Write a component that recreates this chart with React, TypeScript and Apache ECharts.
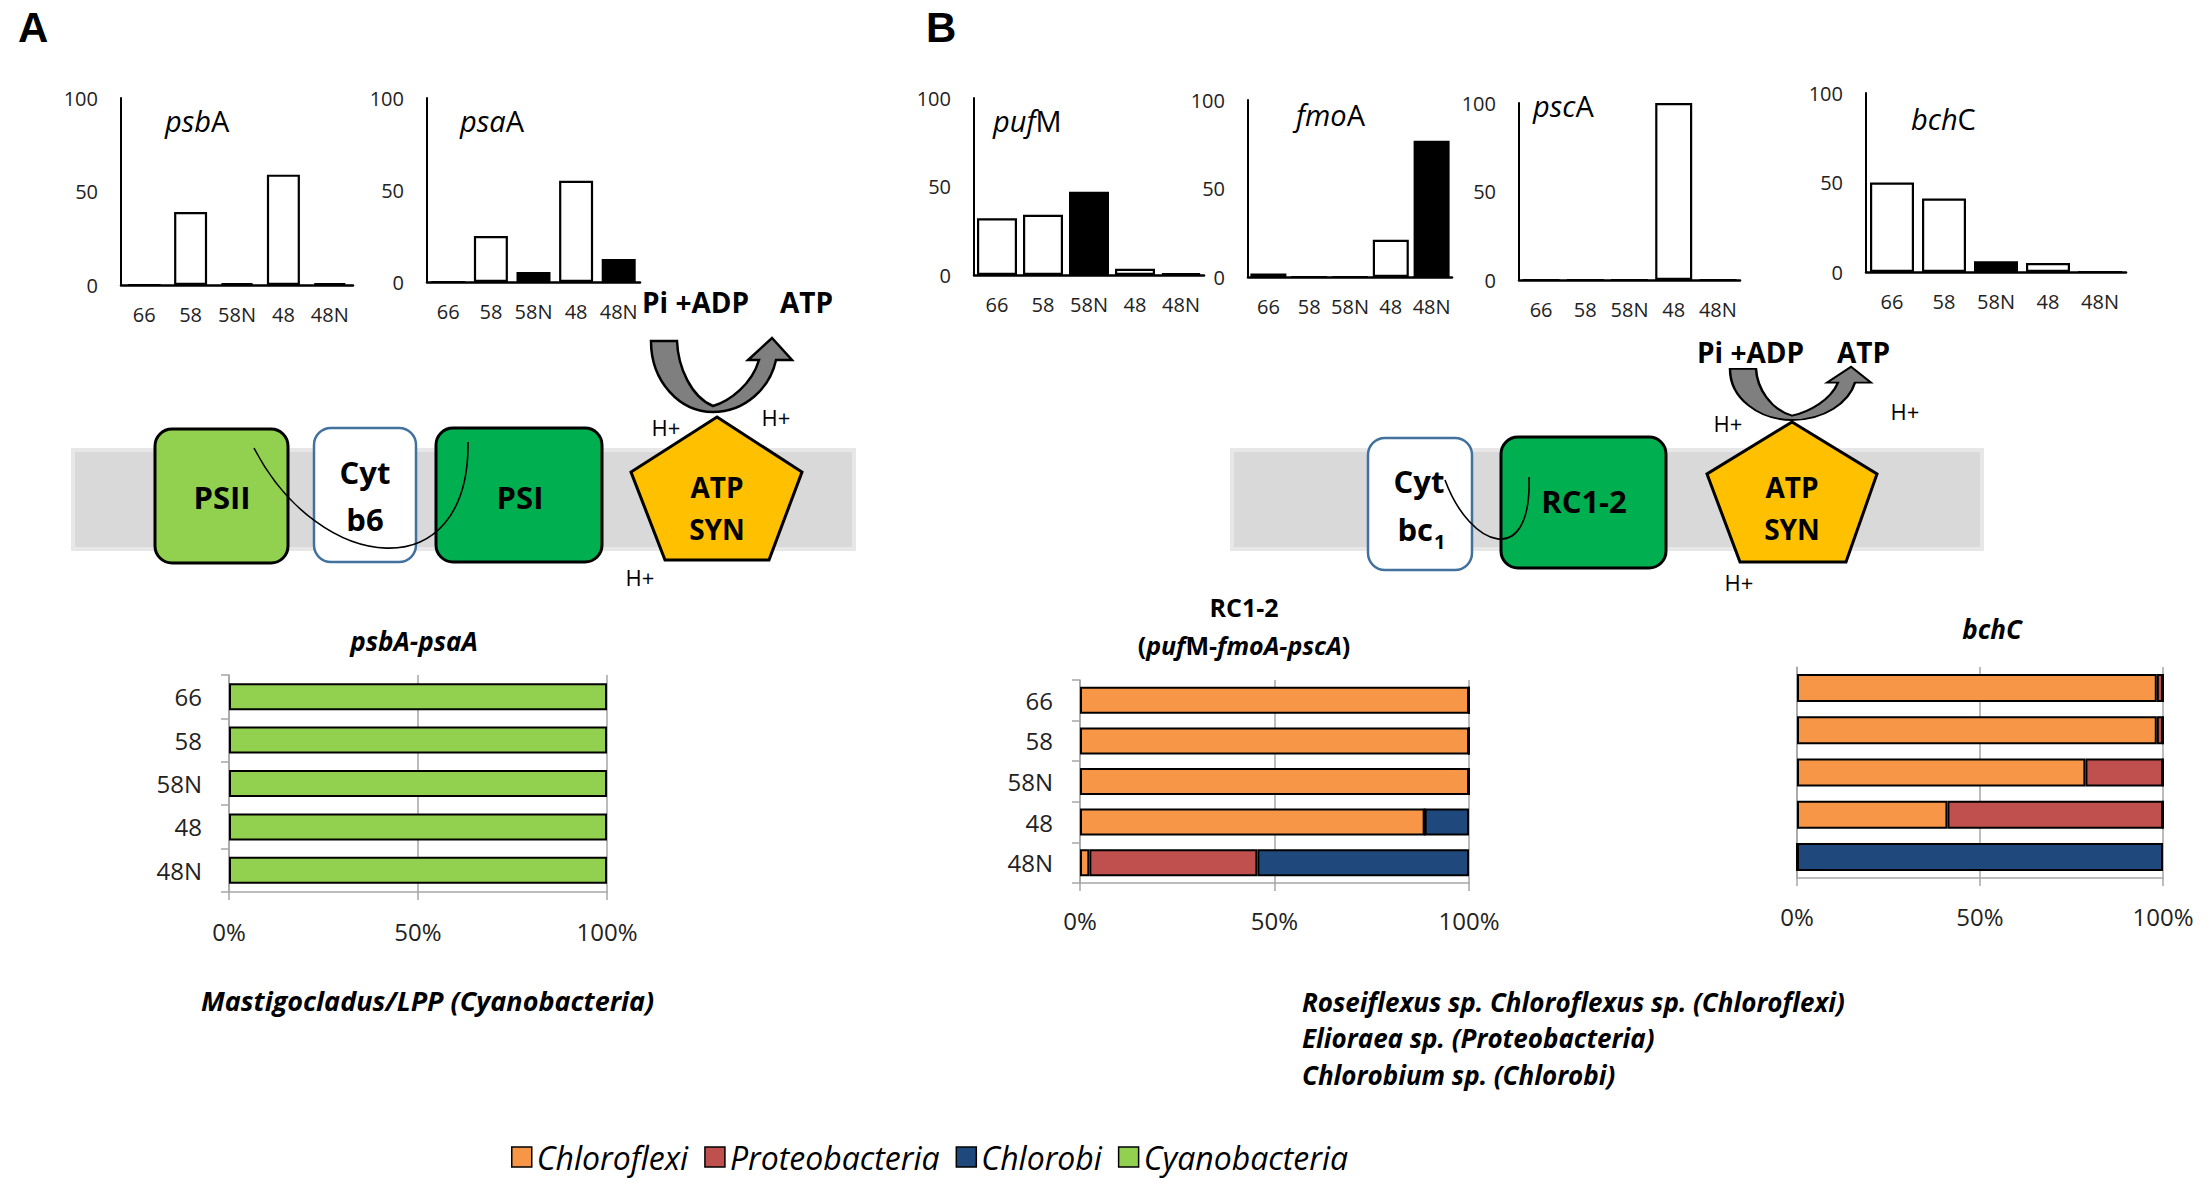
import React, { useEffect, useRef } from 'react';
import * as echarts from 'echarts';

// ---------- data ----------
const sampleCats = ['66', '58', '58N', '48', '48N'];

const psbAValues = [0, 39, 1, 59, 1];
const psaAValues = [0, 25, 5.5, 55, 12.5];
const pufMValues = [32, 34, 47, 3.5, 1];
const fmoAValues = [2, 0, 0, 21, 77];
const pscAValues = [0, 0, 0, 100, 0];
const bchCValues = [50, 41, 6, 5, 0];

const psbPsaCyanobacteria = [100, 100, 100, 100, 100];

const rcChloroflexi = [100, 100, 100, 88.6, 2.4];
const rcProteobacteria = [0, 0, 0, 0, 43.2];
const rcChlorobi = [0, 0, 0, 11.4, 54.4];

const bchChloroflexi = [98.3, 98.3, 78.8, 41.1, 0];
const bchProteobacteria = [1.7, 1.7, 21.2, 58.9, 0];
const bchChlorobi = [0, 0, 0, 0, 100];

const topTitles = [
  ['psb', 'A'],
  ['psa', 'A'],
  ['puf', 'M'],
  ['fmo', 'A'],
  ['psc', 'A'],
  ['bch', 'C'],
];
const legendNames = ['Chloroflexi', 'Proteobacteria', 'Chlorobi', 'Cyanobacteria'];

// ---------- layout / style ----------
const FONT = '"Open Sans", Lato, "Noto Sans", sans-serif';
const LETTER_FONT = '"Liberation Sans", Arial, sans-serif';
const COLORS: Record<string, string> = {
  Chloroflexi: '#f79646',
  Proteobacteria: '#c0504d',
  Chlorobi: '#1f497d',
  Cyanobacteria: '#92d050',
};

const topLayout = [
  { left: 121, top: 98, width: 232, height: 187, barWidth: 33, tx: 165, ty: 120 },
  { left: 427, top: 98, width: 213, height: 184, barWidth: 34, tx: 460, ty: 120 },
  { left: 974, top: 98, width: 230, height: 177, barWidth: 40, tx: 993, ty: 120 },
  { left: 1248, top: 100, width: 204, height: 177, barWidth: 36, tx: 1296, ty: 114 },
  { left: 1519, top: 103, width: 221, height: 177, barWidth: 37, tx: 1533, ty: 105 },
  { left: 1866, top: 93, width: 260, height: 179, barWidth: 44, tx: 1911, ty: 118 },
];
const bottomLayout = [
  { left: 229, top: 675, width: 378, height: 217, barWidth: 27, labels: true, ticks: true, margin: 27 },
  { left: 1080, top: 680, width: 389, height: 203, barWidth: 27, labels: true, ticks: true, margin: 25 },
  { left: 1797, top: 667, width: 366, height: 211, barWidth: 28, labels: false, ticks: false, margin: 26 },
];

const ARROW_D =
  'M -62 -71 L -36 -71 C -35 -45 -22 -15 0 -6 C 17 -11 39 -28 46 -52 L 35 -52 L 59 -74 L 79 -52 L 63 -52 C 57 -24 32 0 0 0 C -33 0 -62 -30 -62 -71 Z';
echarts.graphic.registerShape('atpArrow', echarts.graphic.extendPath(ARROW_D, {}));

function txt(x: number, y: number, text: string, font: string, align = 'left', extra: any = {}) {
  return {
    type: 'text',
    x,
    y,
    silent: true,
    style: {
      text,
      font,
      fill: '#000',
      textAlign: align,
      textVerticalAlign: 'middle',
      ...extra,
    },
  };
}

function richTitle(x: number, y: number, it: string, normal: string, size: number) {
  return {
    type: 'text',
    x,
    y,
    silent: true,
    style: {
      text: `{i|${it}}{n|${normal}}`,
      textAlign: 'left',
      textVerticalAlign: 'middle',
      rich: {
        i: { fontStyle: 'italic', fontSize: size, fontFamily: FONT, fill: '#000', color: '#000' },
        n: { fontStyle: 'normal', fontSize: size, fontFamily: FONT, fill: '#000', color: '#000' },
      },
    },
  };
}

function roundBox(x: number, y: number, w: number, h: number, fill: string, stroke: string, lw: number) {
  return {
    type: 'rect',
    silent: true,
    shape: { x, y, width: w, height: h, r: 17 },
    style: { fill, stroke, lineWidth: lw },
  };
}

function buildOption() {
  const topData = [psbAValues, psaAValues, pufMValues, fmoAValues, pscAValues, bchCValues];

  const grid: any[] = [];
  const xAxis: any[] = [];
  const yAxis: any[] = [];
  const series: any[] = [];

  topLayout.forEach((l, i) => {
    grid.push({ left: l.left, top: l.top, width: l.width, height: l.height, containLabel: false, outerBoundsMode: 'none' });
    xAxis.push({
      type: 'category',
      gridIndex: i,
      data: sampleCats,
      axisLine: { show: true, onZero: false, lineStyle: { color: '#000', width: 2.5 } },
      axisTick: { show: false },
      axisLabel: { color: '#222', fontSize: 20, fontFamily: FONT, margin: 19, interval: 0 },
    });
    yAxis.push({
      type: 'value',
      gridIndex: i,
      min: 0,
      max: 100,
      interval: 50,
      axisLine: { show: true, lineStyle: { color: '#000', width: 2 } },
      axisTick: { show: false },
      splitLine: { show: false },
      axisLabel: { color: '#222', fontSize: 20, fontFamily: FONT, margin: 23 },
    });
    series.push({
      type: 'bar',
      xAxisIndex: i,
      yAxisIndex: i,
      barWidth: l.barWidth,
      silent: true,
      itemStyle: { borderColor: '#000', borderWidth: 2.2 },
      data: topData[i].map((v, j) => ({
        value: v,
        itemStyle: { color: sampleCats[j].endsWith('N') ? '#000' : '#fff' },
      })),
    });
  });

  bottomLayout.forEach((l, k) => {
    const gi = 6 + k;
    grid.push({ left: l.left, top: l.top, width: l.width, height: l.height, containLabel: false, outerBoundsMode: 'none' });
    xAxis.push({
      type: 'value',
      gridIndex: gi,
      min: 0,
      max: 100,
      interval: 50,
      axisLine: { show: true, lineStyle: { color: '#a6a6a6', width: 1.5 } },
      axisTick: { show: true, length: 8, lineStyle: { color: '#a6a6a6', width: 1.5 } },
      splitLine: { show: true, lineStyle: { color: '#a6a6a6', width: 1.5 } },
      axisLabel: { formatter: '{value}%', color: '#222', fontSize: 24, fontFamily: FONT, margin: l.margin },
    });
    yAxis.push({
      type: 'category',
      gridIndex: gi,
      data: sampleCats,
      inverse: true,
      axisLine: { show: true, lineStyle: { color: '#a6a6a6', width: 1.5 } },
      axisTick: { show: l.ticks, length: 8, lineStyle: { color: '#a6a6a6', width: 1.5 } },
      axisLabel: { show: l.labels, color: '#222', fontSize: 24, fontFamily: FONT, margin: 27 },
    });
  });

  const stackBar = (name: string, gi: number, data: number[], bw: number) => ({
    name,
    type: 'bar',
    stack: 'g' + gi,
    xAxisIndex: gi,
    yAxisIndex: gi,
    barWidth: bw,
    silent: true,
    itemStyle: { color: COLORS[name], borderColor: '#000', borderWidth: 2 },
    data,
  });

  series.push(stackBar('Cyanobacteria', 6, psbPsaCyanobacteria, bottomLayout[0].barWidth));
  series.push(stackBar('Chloroflexi', 7, rcChloroflexi, bottomLayout[1].barWidth));
  series.push(stackBar('Proteobacteria', 7, rcProteobacteria, bottomLayout[1].barWidth));
  series.push(stackBar('Chlorobi', 7, rcChlorobi, bottomLayout[1].barWidth));
  series.push(stackBar('Chloroflexi', 8, bchChloroflexi, bottomLayout[2].barWidth));
  series.push(stackBar('Proteobacteria', 8, bchProteobacteria, bottomLayout[2].barWidth));
  series.push(stackBar('Chlorobi', 8, bchChlorobi, bottomLayout[2].barWidth));

  const boldF = (s: number) => `bold ${s}px ${FONT}`;
  const normF = (s: number) => `${s}px ${FONT}`;
  const biF = (s: number) => `italic bold ${s}px ${FONT}`;

  const graphics: any[] = [
    // panel letters
    txt(18, 27, 'A', `bold 42px ${LETTER_FONT}`),
    txt(926, 27, 'B', `bold 42px ${LETTER_FONT}`),
    // top chart titles
    ...topLayout.map((l, i) => richTitle(l.tx, l.ty, topTitles[i][0], topTitles[i][1], 29)),

    // ---- membrane A ----
    { type: 'rect', silent: true, shape: { x: 73, y: 450, width: 781, height: 99 }, style: { fill: '#d9d9d9', stroke: '#e7e7e7', lineWidth: 4 } },
    roundBox(155, 429, 133, 134, '#92d050', '#000', 3),
    roundBox(314, 428, 102, 134, '#ffffff', '#41719c', 2.5),
    roundBox(436, 428, 166, 134, '#00b050', '#000', 3),
    {
      type: 'bezierCurve',
      silent: true,
      shape: { x1: 254, y1: 448, cpx1: 320, cpy1: 575, cpx2: 470, cpy2: 590, x2: 468, y2: 442 },
      style: { stroke: '#000', lineWidth: 1.6, fill: null },
    },
    {
      type: 'polygon',
      silent: true,
      shape: { points: [[717, 417], [802, 472], [769, 560], [665, 560], [631, 472]] },
      style: { fill: '#ffc000', stroke: '#000', lineWidth: 3 },
    },
    { type: 'atpArrow', silent: true, x: 713, y: 412, style: { fill: '#7f7f7f', stroke: '#000', lineWidth: 2.5 } },
    txt(222, 497, 'PSII', boldF(31), 'center'),
    txt(365, 472, 'Cyt', boldF(31), 'center'),
    txt(365, 519, 'b6', boldF(31), 'center'),
    txt(520, 497, 'PSI', boldF(31), 'center'),
    txt(717, 487, 'ATP', boldF(28), 'center'),
    txt(717, 529, 'SYN', boldF(28), 'center'),
    txt(666, 427, 'H+', normF(22), 'center'),
    txt(776, 417, 'H+', normF(22), 'center'),
    txt(640, 577, 'H+', normF(22), 'center'),
    txt(642, 302, 'Pi +ADP', boldF(28), 'left'),
    txt(780, 302, 'ATP', boldF(28), 'left'),

    // ---- membrane B ----
    { type: 'rect', silent: true, shape: { x: 1232, y: 450, width: 750, height: 99 }, style: { fill: '#d9d9d9', stroke: '#e7e7e7', lineWidth: 4 } },
    roundBox(1368, 438, 104, 132, '#ffffff', '#41719c', 2.5),
    roundBox(1501, 437, 165, 131, '#00b050', '#000', 3),
    {
      type: 'bezierCurve',
      silent: true,
      shape: { x1: 1445, y1: 480, cpx1: 1470, cpy1: 548, cpx2: 1532, cpy2: 570, x2: 1529, y2: 477 },
      style: { stroke: '#000', lineWidth: 1.6, fill: null },
    },
    {
      type: 'polygon',
      silent: true,
      shape: { points: [[1792, 422], [1877, 474], [1846, 562], [1740, 562], [1707, 474]] },
      style: { fill: '#ffc000', stroke: '#000', lineWidth: 3 },
    },
    { type: 'atpArrow', silent: true, x: 1792, y: 420, scaleX: 1, scaleY: 0.72, style: { fill: '#7f7f7f', stroke: '#000', lineWidth: 2.5 } },
    txt(1419, 481, 'Cyt', boldF(31), 'center'),
    txt(1433, 529, 'bc', boldF(31), 'right'),
    txt(1434, 541, '1', boldF(20), 'left'),
    txt(1584, 501, 'RC1-2', boldF(31), 'center'),
    txt(1792, 487, 'ATP', boldF(28), 'center'),
    txt(1792, 529, 'SYN', boldF(28), 'center'),
    txt(1728, 423, 'H+', normF(22), 'center'),
    txt(1905, 411, 'H+', normF(22), 'center'),
    txt(1739, 582, 'H+', normF(22), 'center'),
    txt(1697, 352, 'Pi +ADP', boldF(28), 'left'),
    txt(1837, 352, 'ATP', boldF(28), 'left'),

    // ---- bottom chart titles ----
    txt(414, 641, 'psbA-psaA', biF(26), 'center'),
    txt(1244, 607, 'RC1-2', boldF(25), 'center'),
    {
      type: 'text',
      x: 1244,
      y: 645,
      silent: true,
      style: {
        text: '{n|(}{i|puf}{n|M-}{i|fmoA-pscA}{n|)}',
        textAlign: 'center',
        textVerticalAlign: 'middle',
        rich: {
          n: { fontWeight: 'bold', fontStyle: 'normal', fontSize: 25, fontFamily: FONT, fill: '#000' },
          i: { fontWeight: 'bold', fontStyle: 'italic', fontSize: 25, fontFamily: FONT, fill: '#000' },
        },
      },
    },
    txt(1992, 629, 'bchC', biF(26), 'center'),

    // ---- footnotes ----
    txt(201, 1000, 'Mastigocladus/LPP (Cyanobacteria)', biF(27), 'left'),
    txt(1302, 1002, 'Roseiflexus sp. Chloroflexus sp. (Chloroflexi)', biF(26), 'left'),
    txt(1302, 1038, 'Elioraea sp. (Proteobacteria)', biF(26), 'left'),
    txt(1302, 1075, 'Chlorobium sp. (Chlorobi)', biF(26), 'left'),
  ];

  return {
    animation: false,
    backgroundColor: '#ffffff',
    grid,
    xAxis,
    yAxis,
    series,
    legend: {
      data: legendNames,
      left: 506,
      top: 1136,
      icon: 'rect',
      itemWidth: 20,
      itemHeight: 20,
      itemGap: 16,
      selectedMode: false,
      itemStyle: { borderColor: '#000', borderWidth: 1.5 },
      textStyle: { fontStyle: 'italic', fontSize: 32, fontFamily: FONT, color: '#000' },
    },
    graphic: graphics,
  };
}

export default function App() {
  const ref = useRef<HTMLDivElement>(null);
  useEffect(() => {
    document.body.style.margin = '0';
    if (!ref.current) return;
    const chart = echarts.init(ref.current, null, { renderer: 'svg' });
    chart.setOption(buildOption() as any);
    return () => chart.dispose();
  }, []);
  return (
    <div
      ref={ref}
      style={{ position: 'absolute', left: 0, top: 0, width: 2207, height: 1182, background: '#fff' }}
    />
  );
}
